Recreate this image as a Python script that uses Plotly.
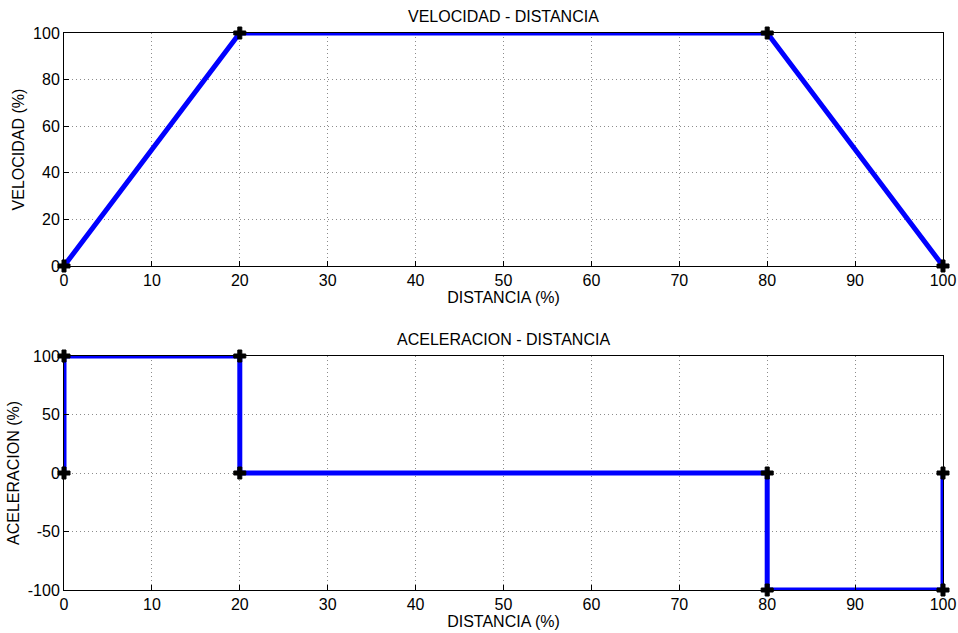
import plotly.graph_objects as go
from plotly.subplots import make_subplots

# Data
vel_x = [0, 20, 80, 100]
vel_y = [0, 100, 100, 0]
acc_x = [0, 0, 20, 20, 80, 80, 100, 100]
acc_y = [0, 100, 100, 0, 0, -100, -100, 0]
x_ticks = [0, 10, 20, 30, 40, 50, 60, 70, 80, 90, 100]
vel_ticks = [0, 20, 40, 60, 80, 100]
acc_ticks = [-100, -50, 0, 50, 100]
acc_tick_labels = ["-100", "-50", "0", "50", "100"]

FONT = "Liberation Sans, Arial, Helvetica, sans-serif"
FS = 16

fig = make_subplots(rows=2, cols=1)

line_style = dict(color="#0000ff", width=5)
marker_style = dict(symbol="cross", color="black", size=10, line=dict(color="black", width=1))

fig.add_trace(go.Scatter(x=vel_x, y=vel_y, mode="lines+markers", line=line_style,
                         marker=marker_style, cliponaxis=False, showlegend=False), row=1, col=1)
fig.add_trace(go.Scatter(x=acc_x, y=acc_y, mode="lines+markers", line=line_style,
                         marker=marker_style, cliponaxis=False, showlegend=False), row=2, col=1)

axis_common = dict(
    showline=True, linecolor="black", linewidth=1, mirror=True,
    ticks="inside", ticklen=5, tickcolor="black",
    showgrid=True, gridcolor="#8c8c8c", griddash="1px,3px", gridwidth=1,
    zeroline=False, tickfont=dict(family=FONT, size=FS, color="black"),
    ticklabelstandoff=0, automargin=False,
)

fig.update_xaxes(**axis_common, range=[0, 100], tickvals=x_ticks,
                 title=dict(text="DISTANCIA (%)", font=dict(family=FONT, size=FS, color="black"), standoff=0))
fig.update_yaxes(**axis_common)
fig.update_yaxes(range=[0, 100], tickvals=vel_ticks, row=1, col=1,
                 title=dict(text="VELOCIDAD (%)", font=dict(family=FONT, size=FS, color="black"), standoff=4))
fig.update_yaxes(range=[-100, 100], tickvals=acc_ticks, ticktext=acc_tick_labels, row=2, col=1,
                 title=dict(text="ACELERACION (%)", font=dict(family=FONT, size=FS, color="black"), standoff=4))

fig.update_layout(
    width=958, height=633,
    margin=dict(l=64, r=15, t=33, b=43),
    plot_bgcolor="white", paper_bgcolor="white",
    xaxis=dict(domain=[0, 1]), xaxis2=dict(domain=[0, 1]),
    yaxis=dict(domain=[0.5817, 1]), yaxis2=dict(domain=[0, 0.4201]),
    font=dict(family=FONT, size=FS, color="black"),
    annotations=[
        dict(text="VELOCIDAD - DISTANCIA", x=0.5, y=1, xref="paper", yref="paper",
             xanchor="center", yanchor="bottom", yshift=6, showarrow=False,
             font=dict(family=FONT, size=FS, color="black")),
        dict(text="ACELERACION - DISTANCIA", x=0.5, y=0.4201, xref="paper", yref="paper",
             xanchor="center", yanchor="bottom", yshift=6, showarrow=False,
             font=dict(family=FONT, size=FS, color="black")),
    ],
)

fig.write_html(
    "out.html",
    config={"displayModeBar": False},
    post_script="document.body.style.margin='0';document.body.style.overflow='hidden';",
)
